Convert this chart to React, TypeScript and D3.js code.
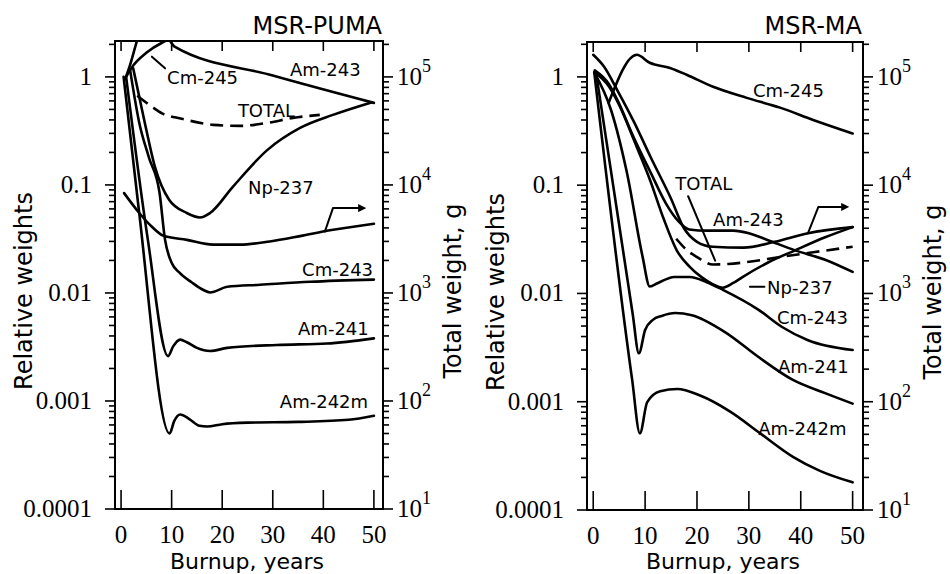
import React from "react";
import * as d3 from "d3";

type P = [number, number];

// ---------- shared axis values ----------
const burnupTicks = [0, 10, 20, 30, 40, 50];
const relTickLabels = ["0.0001", "0.001", "0.01", "0.1", "1"];
const totalTickExponents = ["1", "2", "3", "4", "5"];

// ---------- MSR-PUMA (left) : [burnup years, relative weight] ----------
const pumaCm245: P[] = [[0.8, 0.95], [1.8, 1.3], [3.2, 2.2], [4.5, 3.3]];
const pumaAm243: P[] = [[1, 1.0], [2, 1.2], [5, 1.67], [8, 2.06], [9.4, 2.2], [10.5, 1.92], [30, 1.03], [50, 0.575]];
const pumaTotal: P[] = [[3.2, 0.67], [6.1, 0.53], [8.1, 0.46], [12, 0.41], [18.2, 0.36], [23.5, 0.352], [28.9, 0.375], [34, 0.417], [39.3, 0.445]];
const pumaNp237: P[] = [[2.4, 1.2], [4.7, 0.375], [6.7, 0.147], [9.5, 0.073], [13, 0.055], [15.6, 0.05], [17.6, 0.055], [22.1, 0.096], [28.9, 0.21], [35.4, 0.337], [41.9, 0.445], [49.5, 0.58]];
const pumaTotalWeight: P[] = [[0.6, 0.084], [3.6, 0.055], [6.1, 0.041], [8.3, 0.034], [13, 0.031], [18.2, 0.028], [23.5, 0.028], [29.4, 0.03], [35.4, 0.0336], [41.3, 0.038], [50, 0.0437]];
const pumaCm243: P[] = [[1.8, 1.15], [3.6, 0.375], [5.5, 0.18], [7.6, 0.085], [8.7, 0.031], [10, 0.019], [11.5, 0.0155], [14, 0.0125], [16.2, 0.0107], [17.6, 0.0101], [21, 0.0114], [27.5, 0.0119], [37.4, 0.0127], [50, 0.0133]];
const pumaAm241: P[] = [[1.0, 1.0], [5.3, 0.031], [9.3, 0.0026], [10.3, 0.0032], [11.7, 0.0037], [13, 0.0035], [15, 0.0031], [17.6, 0.0029], [21, 0.0031], [30.8, 0.0033], [40.7, 0.0034], [50, 0.0038]];
const pumaAm242m: P[] = [[0.5, 1.0], [3.45, 0.0625], [9.6, 0.0005], [10.5, 0.00065], [11.7, 0.00075], [13.5, 0.00068], [15.5, 0.00059], [17, 0.00058], [20, 0.00061], [25, 0.00063], [35, 0.00064], [45, 0.00067], [50, 0.00073]];

// ---------- MSR-MA (right) ----------
const maCm245: P[] = [[3, 0.58], [8.4, 1.6], [10.9, 1.35], [14.8, 1.21], [18.1, 1.04], [23.1, 0.81], [29.6, 0.64], [36, 0.52], [42.4, 0.4], [50, 0.3]];
const maTotalWeight: P[] = [[0, 1.6], [2.1, 1.24], [4.6, 0.76], [7.9, 0.38], [11.1, 0.18], [15, 0.075], [17.5, 0.04], [20, 0.03], [23, 0.027], [29, 0.0265], [35, 0.03], [41.4, 0.036], [50, 0.041]];
const maAm243: P[] = [[0.3, 1.15], [3, 0.86], [4.6, 0.62], [7.9, 0.27], [11.1, 0.13], [14, 0.068], [16.5, 0.046], [18.5, 0.039], [22, 0.038], [27, 0.038], [30, 0.036], [33.7, 0.031], [38.9, 0.025], [44.7, 0.0205], [50, 0.0158]];
const maNp237: P[] = [[0.3, 1.1], [3, 0.82], [5, 0.55], [8, 0.25], [11, 0.11], [13.5, 0.05], [16.1, 0.025], [18.6, 0.0176], [21, 0.014], [23, 0.0122], [25, 0.0113], [27, 0.0125], [28.7, 0.0141], [33.7, 0.0193], [38.9, 0.025], [44.7, 0.033], [50, 0.041]];
const maTotal: P[] = [[16, 0.032], [18.1, 0.025], [20, 0.0217], [23.1, 0.0185], [26, 0.0187], [29.6, 0.0195], [36, 0.0217], [42.4, 0.024], [50, 0.027]];
const maCm243: P[] = [[0.2, 1.1], [3.4, 0.5], [6.5, 0.13], [9.5, 0.022], [10.9, 0.0116], [12.5, 0.0125], [15.6, 0.0142], [18.6, 0.0142], [21.9, 0.0127], [25, 0.0108], [31.8, 0.0071], [36.4, 0.0049], [41.4, 0.0037], [50, 0.003]];
const maAm241: P[] = [[0.6, 1.05], [7.6, 0.0065], [8.8, 0.0028], [10, 0.0046], [11.5, 0.0057], [13.2, 0.0062], [15.8, 0.0066], [19, 0.0063], [25.4, 0.0044], [31.8, 0.0026], [38.4, 0.0016], [44.7, 0.0012], [50, 0.00096]];
const maAm242m: P[] = [[0.2, 1.1], [7.5, 0.0016], [9.0, 0.00051], [10.4, 0.00099], [12.9, 0.00125], [16.2, 0.00131], [20.6, 0.00114], [26.4, 0.00081], [32.2, 0.00051], [38.5, 0.00031], [43.7, 0.00023], [50, 0.00018]];

// ---------- annotations (data units) ----------
type Lab = [string, number, number];
const pumaLabels: Lab[] = [["Am-243", 33.4, 1.02], ["Cm-245", 9.1, 0.86], ["TOTAL", 23.1, 0.43], ["Np-237", 25.1, 0.083], ["Cm-243", 35.8, 0.0144], ["Am-241", 35, 0.0041], ["Am-242m", 31.4, 0.00086]];
const maLabels: Lab[] = [["Cm-245", 30.8, 0.652], ["TOTAL", 15.8, 0.09], ["Am-243", 23.1, 0.0419], ["Np-237", 33.5, 0.0099], ["Cm-243", 35.4, 0.0052], ["Am-241", 35.6, 0.00183], ["Am-242m", 31.8, 0.00049]];
const pumaLeaders: P[][] = [[[6.1, 1.54], [8.7, 1.2]]];
const maLeaders: P[][] = [[[18.3, 0.079], [23.5, 0.0201]], [[30.2, 0.0115], [33.0, 0.0115]]];
const pumaArrow: P[] = [[40.3, 0.037], [41.9, 0.061], [47.2, 0.061]];
const maArrow: P[] = [[41.4, 0.036], [43.4, 0.063], [48.1, 0.063]];

type Series = { pts: P[]; dashed?: boolean };

const pumaSeries: Series[] = [
  { pts: pumaCm245 }, { pts: pumaAm243 }, { pts: pumaTotal, dashed: true }, { pts: pumaNp237 },
  { pts: pumaTotalWeight }, { pts: pumaCm243 }, { pts: pumaAm241 }, { pts: pumaAm242m },
];
const maSeries: Series[] = [
  { pts: maCm245 }, { pts: maTotalWeight }, { pts: maAm243 }, { pts: maNp237 },
  { pts: maTotal, dashed: true }, { pts: maCm243 }, { pts: maAm241 }, { pts: maAm242m },
];

type Layout = {
  id: string; left: number; right: number; top: number; bottom: number;
  xDomain: [number, number]; yDomain: [number, number]; title: string;
};

const SANS = "'DejaVu Sans', sans-serif";
const SERIF = "'Liberation Serif', 'Times New Roman', serif";

function Panel({ L, series, labels, leaders, arrow }: { L: Layout; series: Series[]; labels: Lab[]; leaders: P[][]; arrow: P[] }) {
  const x = d3.scaleLinear().domain(L.xDomain).range([L.left, L.right]);
  const y = d3.scaleLog().domain(L.yDomain).range([L.bottom, L.top]);
  const line = d3.line<P>().x((d) => x(d[0])).y((d) => y(d[1])).curve(d3.curveMonotoneX);
  const straight = d3.line<P>().x((d) => x(d[0])).y((d) => y(d[1]));

  const yTicks: { v: number; major: boolean }[] = [];
  for (let e = -4; e <= 0; e++) {
    for (let k = 1; k <= 9; k++) {
      const v = k * Math.pow(10, e);
      if (v >= L.yDomain[0] && v <= L.yDomain[1]) yTicks.push({ v, major: k === 1 });
    }
  }
  const majors = yTicks.filter((t) => t.major);
  const midX = (L.left + L.right) / 2 - 2;
  const midY = (L.top + L.bottom) / 2 + 16;

  return (
    <g>
      <defs>
        <clipPath id={`clip-${L.id}`}>
          <rect x={L.left} y={L.top} width={L.right - L.left} height={L.bottom - L.top} />
        </clipPath>
      </defs>
      <g clipPath={`url(#clip-${L.id})`} fill="none" stroke="#000" strokeWidth={2.6} strokeLinejoin="round" strokeLinecap="round">
        {series.map((s, i) => (
          <path key={i} d={line(s.pts) || ""} strokeDasharray={s.dashed ? "13 7" : undefined} strokeLinecap={s.dashed ? "butt" : "round"} />
        ))}
        {leaders.map((l, i) => (
          <path key={"l" + i} d={straight(l) || ""} strokeWidth={2} />
        ))}
        <path d={straight(arrow) || ""} strokeWidth={2} markerEnd="url(#arrowhead)" />
      </g>
      <rect x={L.left} y={L.top} width={L.right - L.left} height={L.bottom - L.top} fill="none" stroke="#000" strokeWidth={2} />
      <g stroke="#000" strokeWidth={1.6}>
        {yTicks.map((t, i) => (
          <g key={i}>
            <line x1={L.left - (t.major ? 10 : 6)} x2={L.left} y1={y(t.v)} y2={y(t.v)} />
            <line x1={L.right} x2={L.right + (t.major ? 10 : 6)} y1={y(t.v)} y2={y(t.v)} />
          </g>
        ))}
        {burnupTicks.map((t) => (
          <g key={"x" + t}>
            <line x1={x(t)} x2={x(t)} y1={L.top} y2={L.top + 10} />
            <line x1={x(t)} x2={x(t)} y1={L.bottom} y2={L.bottom - 19} />
          </g>
        ))}
      </g>
      <g fontFamily={SERIF} fontSize={25} fill="#000">
        {majors.map((t, i) => (
          <text key={"yl" + i} x={L.left - 23} y={y(t.v) + 8} textAnchor="end">{relTickLabels[i]}</text>
        ))}
        {majors.map((t, i) => (
          <text key={"yr" + i} x={L.right + 14} y={y(t.v) + 8}>
            10<tspan fontSize={18} dy={-13}>{totalTickExponents[i]}</tspan>
          </text>
        ))}
        {burnupTicks.map((t) => (
          <text key={"xl" + t} x={x(t)} y={L.bottom + 34} textAnchor="middle">{t}</text>
        ))}
      </g>
      <g fontFamily={SANS} fontSize={18} fill="#000">
        {labels.map(([name, t, v]) => (
          <text key={name} x={x(t)} y={y(v)}>{name}</text>
        ))}
      </g>
      <g fontFamily={SANS} fill="#000">
        <text x={L.right - 1} y={34} fontSize={24} textAnchor="end">{L.title}</text>
        <text x={midX} y={569} fontSize={22} textAnchor="middle">Burnup, years</text>
        <text transform={`translate(${L.left - 83},${midY}) rotate(-90)`} fontSize={24} textAnchor="middle">Relative weights</text>
        <text transform={`translate(${L.right + 78},${midY}) rotate(-90)`} fontSize={24} textAnchor="middle">Total weight, g</text>
      </g>
    </g>
  );
}

const PUMA: Layout = { id: "puma", left: 115, right: 383, top: 41, bottom: 509, xDomain: [-1.2, 51.8], yDomain: [1e-4, 2.15], title: "MSR-PUMA" };
const MA: Layout = { id: "ma", left: 587, right: 863, top: 42, bottom: 510, xDomain: [-1.2, 52], yDomain: [1e-4, 2.1], title: "MSR-MA" };

export default function App() {
  return (
    <svg width={950} height={574} viewBox="0 0 950 574" style={{ position: "absolute", left: 0, top: 0, background: "#fff" }}>
      <defs>
        <marker id="arrowhead" viewBox="0 0 10 10" refX={2} refY={5} markerWidth={4} markerHeight={4} orient="auto" markerUnits="strokeWidth">
          <path d="M0,0 L10,5 L0,10 z" fill="#000" />
        </marker>
      </defs>
      <rect x={0} y={0} width={950} height={574} fill="#fff" />
      <Panel L={PUMA} series={pumaSeries} labels={pumaLabels} leaders={pumaLeaders} arrow={pumaArrow} />
      <Panel L={MA} series={maSeries} labels={maLabels} leaders={maLeaders} arrow={maArrow} />
    </svg>
  );
}
